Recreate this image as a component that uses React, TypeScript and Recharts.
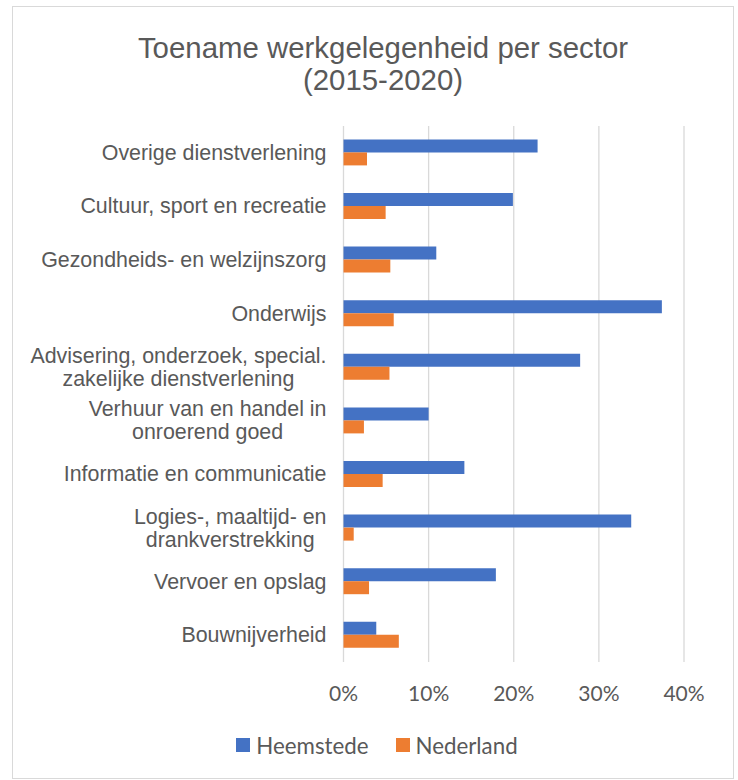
import { Bar, BarChart, CartesianGrid, XAxis, YAxis } from "recharts";

const sectors = [
  "Overige dienstverlening",
  "Cultuur, sport en recreatie",
  "Gezondheids- en welzijnszorg",
  "Onderwijs",
  "Advisering, onderzoek, special.\nzakelijke dienstverlening",
  "Verhuur van en handel in\nonroerend goed",
  "Informatie en communicatie",
  "Logies-, maaltijd- en\ndrankverstrekking",
  "Vervoer en opslag",
  "Bouwnijverheid",
];

const heemstede = [0.228, 0.199, 0.109, 0.374, 0.278, 0.1, 0.142, 0.338, 0.179, 0.0385];
const nederland = [0.0276, 0.0495, 0.055, 0.059, 0.054, 0.024, 0.046, 0.012, 0.03, 0.065];

const xTicks = [0, 0.1, 0.2, 0.3, 0.4];
const seriesNames = ["Heemstede", "Nederland"];
const seriesColors = ["#4472C4", "#ED7D31"];
const titleLines = ["Toename werkgelegenheid per sector", "(2015-2020)"];

const data = sectors.map((name, i) => ({
  name,
  Heemstede: heemstede[i],
  Nederland: nederland[i],
}));

const textColor = "#595959";
const labelFont = "'Liberation Sans', Arial, sans-serif";
const labelSize = 21.4;

let canvas: HTMLCanvasElement | null = null;
function measure(text: string) {
  if (!canvas) canvas = document.createElement("canvas");
  const ctx = canvas.getContext("2d")!;
  ctx.font = `${labelSize}px ${labelFont}`;
  return ctx.measureText(text).width;
}

function SectorTick(props: any) {
  const { x, y, payload } = props;
  const lines = String(payload.value).split("\n");
  const maxW = Math.max(...lines.map(measure));
  const cx = x - maxW / 2;
  const lh = 23;
  const first = -((lines.length - 1) * lh) / 2;
  return (
    <text
      x={cx}
      y={y}
      textAnchor="middle"
      dominantBaseline="central"
      fill={textColor}
      fontSize={labelSize}
      fontFamily={labelFont}
    >
      {lines.map((l, i) => (
        <tspan key={i} x={cx} dy={i === 0 ? first : lh}>
          {l}
        </tspan>
      ))}
    </text>
  );
}

export default function App() {
  return (
    <div style={{ position: "absolute", left: 0, top: 0, width: 738, height: 780, background: "#fff" }}>
      <div
        style={{
          position: "absolute",
          left: 12,
          top: 6,
          width: 720,
          height: 771,
          border: "1px solid #d9d9d9",
        }}
      />
      <div
        style={{
          position: "absolute",
          left: 83,
          top: 32,
          width: 600,
          textAlign: "center",
          fontFamily: labelFont,
          fontSize: 29.4,
          lineHeight: "32px",
          color: textColor,
        }}
      >
        {titleLines.map((t) => (
          <div key={t}>{t}</div>
        ))}
      </div>
      <div style={{ position: "absolute", left: 0, top: 0 }}>
        <BarChart
          width={738}
          height={780}
          data={data}
          layout="vertical"
          margin={{ top: 126, right: 54, bottom: 88, left: 0 }}
          barCategoryGap="25%"
          barGap={0}
        >
          <CartesianGrid horizontal={false} stroke="#d9d9d9" strokeWidth={1.3} />
          <XAxis
            type="number"
            domain={[0, 0.4]}
            ticks={xTicks}
            tickFormatter={(v) => `${Math.round(v * 100)}%`}
            axisLine={false}
            tickLine={false}
            tickSize={0}
            tickMargin={24}
            height={30}
            tick={{ fill: textColor, fontSize: 21, fontFamily: "Lato, sans-serif" }}
          />
          <YAxis
            type="category"
            dataKey="name"
            width={343.5}
            axisLine={false}
            tickLine={false}
            tickSize={0}
            tickMargin={17}
            interval={0}
            tick={<SectorTick />}
          />
          {seriesNames.map((s, i) => (
            <Bar key={s} dataKey={s} fill={seriesColors[i]} isAnimationActive={false} />
          ))}
        </BarChart>
      </div>
      <div
        style={{
          position: "absolute",
          left: 177,
          top: 731,
          width: 400,
          height: 28,
          display: "flex",
          justifyContent: "center",
          alignItems: "center",
          gap: 27,
          fontFamily: "Lato, sans-serif",
          fontSize: 22.3,
          color: textColor,
        }}
      >
        {seriesNames.map((s, i) => (
          <div key={s} style={{ display: "flex", alignItems: "center", gap: 6 }}>
            <span style={{ width: 14, height: 14, background: seriesColors[i], display: "inline-block" }} />
            <span>{s}</span>
          </div>
        ))}
      </div>
    </div>
  );
}
